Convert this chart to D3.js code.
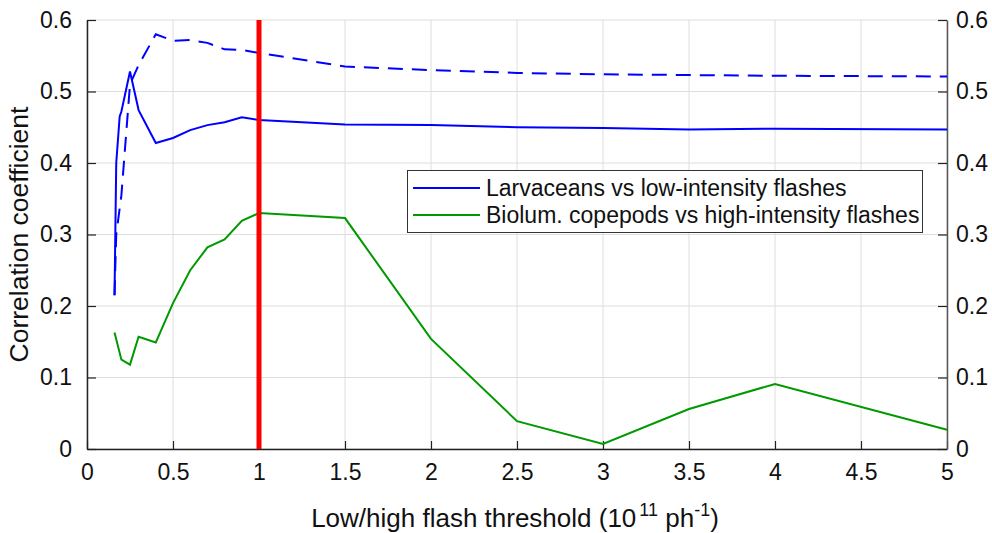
<!DOCTYPE html>
<html>
<head>
<meta charset="utf-8">
<script src="https://cdn.jsdelivr.net/npm/d3@7"></script>
<style>
  body { margin: 0; background: #fff; }
  text { font-family: "Liberation Sans", Arial, sans-serif; }
</style>
</head>
<body>
<script>
// threshold values (10^11 ph^-1) and correlation coefficients
var larvX      = [0.16, 0.17, 0.19, 0.2, 0.25, 0.3, 0.4, 0.5, 0.6, 0.7, 0.8, 0.9, 1, 1.5, 2, 2.5, 3, 3.5, 4, 5];
var larvSolid  = [0.215, 0.40, 0.465, 0.472, 0.528, 0.474, 0.428, 0.435, 0.446, 0.453, 0.457, 0.464, 0.460, 0.454, 0.453, 0.450, 0.449, 0.447, 0.448, 0.447];
var dashX      = [0.16, 0.17, 0.2, 0.25, 0.3, 0.4, 0.5, 0.6, 0.7, 0.8, 0.9, 1, 1.5, 2, 2.5, 3, 3.5, 4, 5];
var larvDashed = [0.215, 0.30, 0.355, 0.51, 0.537, 0.580, 0.571, 0.572, 0.568, 0.559, 0.558, 0.554, 0.535, 0.530, 0.526, 0.524, 0.523, 0.522, 0.521];
var copeX      = [0.16, 0.2, 0.25, 0.3, 0.4, 0.5, 0.6, 0.7, 0.8, 0.9, 1, 1.5, 2, 2.5, 3, 3.5, 4, 5];
var copeVals   = [0.163, 0.125, 0.118, 0.157, 0.149, 0.204, 0.250, 0.282, 0.293, 0.319, 0.330, 0.323, 0.154, 0.039, 0.007, 0.056, 0.091, 0.027];
var threshold  = 1;
var xTicks = [0, 0.5, 1, 1.5, 2, 2.5, 3, 3.5, 4, 4.5, 5];
var yTicks = [0, 0.1, 0.2, 0.3, 0.4, 0.5, 0.6];
var legendLabels = ["Larvaceans vs low-intensity flashes", "Biolum. copepods vs high-intensity flashes"];

var w = 992, h = 533;
var pLeft = 87, pRight = 947, pTop = 20, pBottom = 449;

var svg = d3.select("body").append("svg")
  .attr("width", w)
  .attr("height", h);

var x = d3.scaleLinear().domain([0, 5]).range([pLeft, pRight]);
var y = d3.scaleLinear().domain([0, 0.6]).range([pBottom, pTop]);

// grid
svg.append("g").selectAll("line").data(xTicks).enter().append("line")
  .attr("x1", d => x(d)).attr("x2", d => x(d))
  .attr("y1", pTop).attr("y2", pBottom)
  .attr("stroke", "#dedede").attr("stroke-width", 1);
svg.append("g").selectAll("line").data(yTicks).enter().append("line")
  .attr("x1", pLeft).attr("x2", pRight)
  .attr("y1", d => y(d)).attr("y2", d => y(d))
  .attr("stroke", "#dedede").attr("stroke-width", 1);

var fmt = d3.format("~g");

// axes
var xAxis = d3.axisBottom(x).tickValues(xTicks).tickFormat(fmt).tickSizeInner(-8).tickSizeOuter(0).tickPadding(15);
var yAxisL = d3.axisLeft(y).tickValues(yTicks).tickFormat(fmt).tickSizeInner(-9).tickSizeOuter(0).tickPadding(15);
var yAxisR = d3.axisRight(y).tickValues(yTicks).tickFormat(fmt).tickSizeInner(-9).tickSizeOuter(0).tickPadding(9);

var gx = svg.append("g").attr("transform", "translate(0," + pBottom + ")").call(xAxis);
var gl = svg.append("g").attr("transform", "translate(" + pLeft + ",0)").call(yAxisL);
var gr = svg.append("g").attr("transform", "translate(" + pRight + ",0)").call(yAxisR);
[gx, gl, gr].forEach(function(g) {
  g.attr("font-size", 23).attr("font-family", "'Liberation Sans', Arial, sans-serif");
  g.selectAll("text").attr("fill", "#111");
  g.selectAll("line").attr("stroke", "#222").attr("stroke-width", 1.2);
  g.select(".domain").attr("stroke", "#222").attr("stroke-width", 1.5);
});
gr.select(".domain").attr("stroke", "#555");

// lines
var line = d3.line().x(d => x(d[0])).y(d => y(d[1]));

svg.append("path")
  .datum(dashX.map((d, i) => [d, larvDashed[i]]))
  .attr("d", line).attr("fill", "none")
  .attr("stroke", "#0000ff").attr("stroke-width", 2)
  .attr("stroke-dasharray", "15,9");

svg.append("path")
  .datum(larvX.map((d, i) => [d, larvSolid[i]]))
  .attr("d", line).attr("fill", "none")
  .attr("stroke", "#0000ff").attr("stroke-width", 2);

svg.append("path")
  .datum(copeX.map((d, i) => [d, copeVals[i]]))
  .attr("d", line).attr("fill", "none")
  .attr("stroke", "#009900").attr("stroke-width", 2);

// red threshold line
svg.append("line")
  .attr("x1", x(threshold)).attr("x2", x(threshold))
  .attr("y1", pTop).attr("y2", pBottom)
  .attr("stroke", "#ff0000").attr("stroke-width", 5);

// legend
var lg = svg.append("g");
lg.append("rect")
  .attr("x", 407.5).attr("y", 170.5).attr("width", 515).attr("height", 62)
  .attr("fill", "#fff").attr("stroke", "#333").attr("stroke-width", 1);
var legendColors = ["#0000ff", "#009900"];
legendLabels.forEach(function(lab, i) {
  var cy = 188 + i * 27;
  lg.append("line")
    .attr("x1", 413).attr("x2", 480).attr("y1", cy).attr("y2", cy)
    .attr("stroke", legendColors[i]).attr("stroke-width", 2);
  lg.append("text")
    .attr("x", 486).attr("y", cy + 8)
    .attr("font-size", 23).attr("fill", "#111")
    .text(lab);
});

// axis titles
var xt = svg.append("text")
  .attr("x", 515).attr("y", 527)
  .attr("text-anchor", "middle")
  .attr("font-size", 26).attr("fill", "#111");
xt.append("tspan").text("Low/high flash threshold (10");
xt.append("tspan").attr("font-size", 18).attr("dy", -11).attr("dx", 3).text("11");
xt.append("tspan").attr("dy", 11).text(" ph");
xt.append("tspan").attr("font-size", 18).attr("dy", -11).text("-1");
xt.append("tspan").attr("dy", 11).text(")");

svg.append("text")
  .attr("transform", "translate(28," + (pTop + pBottom) / 2 + ") rotate(-90)")
  .attr("text-anchor", "middle")
  .attr("font-size", 26.5).attr("fill", "#111")
  .text("Correlation coefficient");
</script>
</body>
</html>
